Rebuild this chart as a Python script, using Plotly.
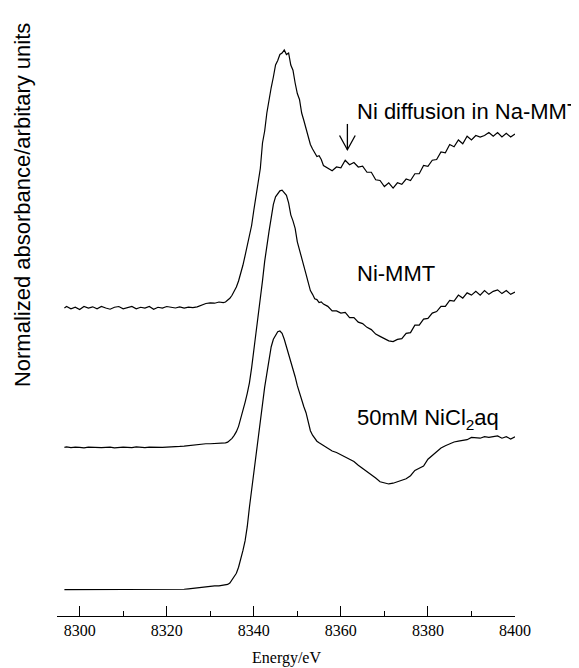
import plotly.graph_objects as go

# ---------------- data ----------------
energy_pre = [8296.5, 8297, 8298, 8299, 8300, 8301, 8302, 8303, 8304, 8305,
              8306, 8307, 8308, 8309, 8310, 8311, 8312, 8313, 8314, 8315,
              8316, 8317, 8318, 8319, 8320, 8321, 8322, 8323, 8324, 8325,
              8326, 8327, 8328, 8329, 8330, 8331, 8332, 8333]
energy_edge = [8333.5, 8334, 8334.5, 8335, 8335.5, 8336, 8336.5, 8337, 8337.5, 8338,
               8338.5, 8339, 8339.5, 8340, 8340.5, 8341, 8341.5, 8342, 8342.5, 8343,
               8343.5, 8344, 8344.5, 8345, 8345.5, 8346, 8346.5, 8347, 8347.5, 8348,
               8348.5, 8349, 8349.5, 8350, 8350.5, 8351, 8351.5, 8352, 8352.5, 8353,
               8353.5, 8354, 8354.5, 8355, 8355.5, 8356]
energy_post = [8357, 8358, 8359, 8360, 8361, 8362, 8363, 8364, 8365, 8366,
               8367, 8368, 8369, 8370, 8371, 8372, 8373, 8374, 8375, 8376,
               8377, 8378, 8379, 8380, 8381, 8382, 8383, 8384, 8385, 8386,
               8387, 8388, 8389, 8390, 8391, 8392, 8393, 8394, 8395, 8396,
               8397, 8398, 8399, 8400]
energy = energy_pre + energy_edge + energy_post

# 50mM NiCl2 aq (normalized absorbance, own baseline = 0)
nicl2 = [0.0, 0.0, 0.002, 0.0, -0.002, 0.0, 0.002, 0.0, 0.0, -0.002,
         0.0, 0.002, 0.0, 0.0, 0.002, 0.0, -0.002, 0.0, 0.0, 0.002,
         0.0, 0.0, 0.002, 0.0, 0.0, 0.002, 0.0, 0.002, 0.003, 0.006,
         0.01, 0.012, 0.016, 0.02, 0.024, 0.025, 0.025, 0.028,
         0.03, 0.035, 0.045, 0.065, 0.085, 0.11, 0.15, 0.20, 0.26, 0.325,
         0.42, 0.55, 0.67, 0.77, 0.87, 1.01, 1.13, 1.26, 1.35, 1.44,
         1.54, 1.62, 1.67, 1.70, 1.72, 1.725, 1.71, 1.67, 1.62, 1.58,
         1.53, 1.47, 1.42, 1.36, 1.31, 1.26, 1.22, 1.18, 1.12, 1.06,
         1.03, 1.01, 0.99, 0.98, 0.97, 0.96,
         0.94, 0.925, 0.915, 0.90, 0.89, 0.87, 0.855, 0.83, 0.81, 0.79,
         0.77, 0.745, 0.72, 0.71, 0.705, 0.71, 0.72, 0.73, 0.74, 0.76,
         0.795, 0.81, 0.825, 0.87, 0.895, 0.925, 0.945, 0.96, 0.975, 0.985,
         0.99, 0.995, 1.00, 1.015, 1.01, 1.01, 1.02, 1.015, 1.02, 1.025,
         1.01, 1.02, 1.005, 1.02]

# Ni-MMT
ni_mmt = [0.0, 0.003, -0.002, 0.002, 0.0, -0.003, 0.002, 0.0, 0.003, -0.002,
          0.0, 0.002, -0.003, 0.0, 0.002, 0.0, -0.002, 0.003, 0.0, -0.002,
          0.002, 0.0, 0.003, 0.0, 0.002, 0.005, 0.004, 0.006, 0.008, 0.012,
          0.015, 0.018, 0.022, 0.024, 0.024, 0.025, 0.024, 0.028,
          0.03, 0.035, 0.045, 0.06, 0.08, 0.105, 0.14, 0.19, 0.24, 0.30,
          0.36, 0.43, 0.53, 0.64, 0.75, 0.86, 0.97, 1.11, 1.24, 1.36,
          1.44, 1.53, 1.62, 1.67, 1.695, 1.71, 1.715, 1.70, 1.68, 1.63,
          1.55, 1.51, 1.46, 1.37, 1.32, 1.27, 1.21, 1.155, 1.10, 1.045,
          1.02, 0.99, 0.985, 0.965, 0.97, 0.955,
          0.94, 0.91, 0.91, 0.895, 0.90, 0.865, 0.865, 0.835, 0.825, 0.80,
          0.785, 0.755, 0.74, 0.725, 0.71, 0.705, 0.72, 0.725, 0.76, 0.765,
          0.815, 0.815, 0.855, 0.86, 0.895, 0.905, 0.94, 0.94, 0.98, 0.975,
          1.015, 0.995, 1.03, 1.015, 1.04, 1.015, 1.045, 1.02, 1.04, 1.05,
          1.025, 1.045, 1.02, 1.035]

# Ni diffusion in Na-MMT
ni_diff = [0.0, 0.01, -0.005, 0.005, -0.01, 0.01, 0.0, 0.008, -0.005, 0.01,
           0.0, -0.008, 0.005, 0.01, -0.005, 0.0, 0.01, -0.005, 0.005, 0.0,
           0.01, -0.008, 0.005, 0.0, 0.01, 0.005, 0.0, 0.008, 0.0, 0.006,
           0.002, 0.008, 0.02, 0.03, 0.034, 0.032, 0.04, 0.036,
           0.04, 0.05, 0.065, 0.085, 0.11, 0.14, 0.18, 0.23, 0.285, 0.35,
           0.42, 0.48, 0.55, 0.65, 0.75, 0.84, 0.93, 1.10, 1.18, 1.30,
           1.40, 1.47, 1.54, 1.62, 1.65, 1.69, 1.70, 1.72, 1.69, 1.70,
           1.62, 1.585, 1.50, 1.43, 1.39, 1.30, 1.25, 1.19, 1.14, 1.09,
           1.06, 1.03, 1.01, 1.015, 0.99, 0.95,
           0.93, 0.915, 0.94, 0.935, 0.985, 0.955, 0.97, 0.94, 0.945, 0.905,
           0.905, 0.855, 0.85, 0.81, 0.835, 0.80, 0.835, 0.825, 0.86, 0.85,
           0.895, 0.895, 0.95, 0.945, 0.985, 0.99, 1.04, 1.035, 1.09, 1.075,
           1.12, 1.095, 1.145, 1.12, 1.15, 1.14, 1.15, 1.17, 1.145, 1.17,
           1.14, 1.165, 1.14, 1.16]

series_names = ["50mM NiCl<sub>2</sub>aq", "Ni-MMT", "Ni diffusion in Na-MMT"]
series_values = [nicl2, ni_mmt, ni_diff]
offsets = [0.0, 0.949, 1.878]          # vertical stacking offsets
label_y = [1.138, 2.105, 3.19]         # label positions (same units)
label_x = 8363.2
arrow_energy = 8361.5
arrow_tip_y = 2.933
arrow_tail_y = 3.105

x_major = [8300, 8320, 8340, 8360, 8380, 8400]
x_minor = [8310, 8330, 8350, 8370, 8390]

for s in series_values:
    assert len(s) == len(energy), (len(s), len(energy))

SERIF = "Liberation Serif"
SANS = "Liberation Sans"

# ---------------- figure ----------------
fig = go.Figure()
for vals, off, name in zip(series_values, offsets, series_names):
    fig.add_trace(go.Scatter(
        x=energy, y=[v + off for v in vals], mode="lines", name=name,
        line=dict(color="black", width=1.2), showlegend=False,
        hoverinfo="skip"))

label_font = dict(family=SANS, size=22, color="black")
for name, ly in zip(series_names, label_y):
    fig.add_annotation(x=label_x, y=ly, xref="x", yref="y", text=name,
                       showarrow=False, xanchor="left", yanchor="middle",
                       font=label_font)

# arrow pointing at the feature on the top spectrum (shaft + open V head)
head_dx, head_dy = 1.8, 0.095
fig.add_shape(type="line", xref="x", yref="y",
              x0=arrow_energy, x1=arrow_energy, y0=arrow_tail_y, y1=arrow_tip_y,
              line=dict(color="black", width=1.3))
fig.add_shape(type="path", xref="x", yref="y",
              path=(f"M {arrow_energy - head_dx},{arrow_tip_y + head_dy} "
                    f"L {arrow_energy},{arrow_tip_y} "
                    f"L {arrow_energy + head_dx},{arrow_tip_y + head_dy}"),
              line=dict(color="black", width=1.3))

# y-axis label (rotated)
fig.add_annotation(x=-0.074, y=0.699, xref="paper", yref="paper",
                   text="Normalized absorbance/arbitary units", textangle=-90,
                   showarrow=False, xanchor="center", yanchor="middle",
                   font=dict(family=SANS, size=22, color="black"))

# x-axis title
fig.add_annotation(x=0.5, y=-0.071, xref="paper", yref="paper", text="Energy/eV",
                   showarrow=False, xanchor="center", yanchor="middle",
                   font=dict(family=SERIF, size=16, color="black"))

fig.update_xaxes(range=[8294.8, 8400], tickvals=x_major, ticktext=[str(v) for v in x_major],
                 ticks="inside", ticklen=10, tickwidth=1.3, tickcolor="black",
                 showline=True, linecolor="black", linewidth=1.3,
                 showgrid=False, zeroline=False,
                 tickfont=dict(family=SERIF, size=16, color="black"),
                 minor=dict(tickvals=x_minor, ticks="inside", ticklen=5, tickwidth=1.3, tickcolor="black",
                            showgrid=False))
fig.update_yaxes(visible=False, range=[-0.1753, 3.7447])

fig.update_layout(width=579, height=668, margin=dict(l=49, r=72, t=20, b=60),
                  plot_bgcolor="white", paper_bgcolor="white", showlegend=False)

fig.write_html("out.html")
